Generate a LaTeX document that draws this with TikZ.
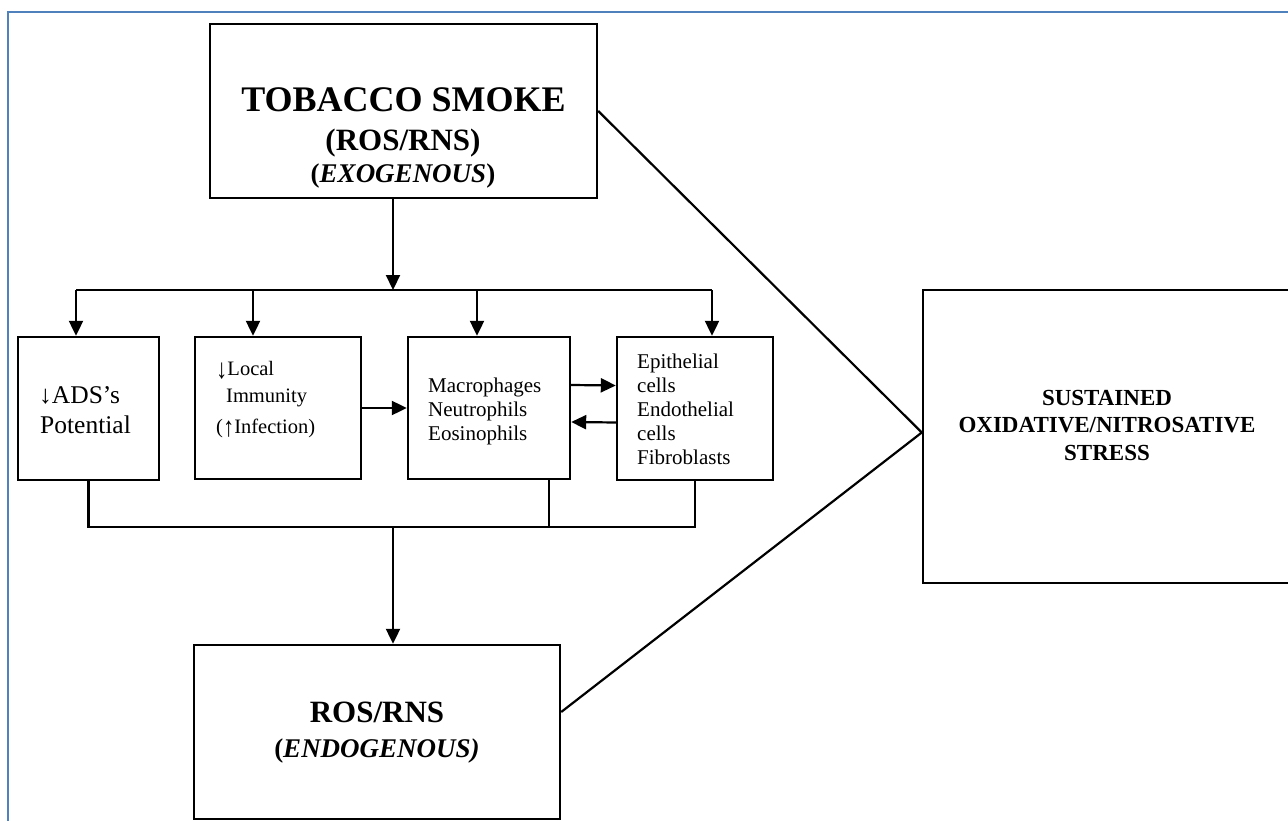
\documentclass[tikz,border=0pt]{standalone}
\usepackage{fontspec}
\usepackage{graphicx}
\setmainfont{Liberation Serif}
\usetikzlibrary{arrows.meta,calc}
\definecolor{frameblue}{RGB}{79,129,189}
\newcommand{\fs}[1]{\fontsize{#1}{#1}\selectfont}
\newcommand{\tallarr}[1]{\raisebox{-0.15em}{\scalebox{1.1}[1.35]{#1}}}
\begin{document}
\begin{tikzpicture}[x=1pt,y=-1pt,
  box/.style={draw=black,line width=2.4pt,rectangle,inner sep=0pt},
  conn/.style={line width=2.2pt,draw=black},
  arr/.style={conn,-{Triangle[length=15pt,width=14pt]}},
  txt/.style={inner sep=0pt,anchor=base west},
  ctxt/.style={inner sep=0pt,anchor=base}]
\useasboundingbox (0,0) rectangle (1288,821);
\fill[white] (0,0) rectangle (1288,821);
\draw[frameblue,line width=2pt] (8,12) rectangle (1300,840);

% boxes
\node[box,minimum width=387pt,minimum height=174pt] (top) at (403.5,111) {};
\node[box,minimum width=141pt,minimum height=143pt] (b1) at (88.5,408.5) {};
\node[box,minimum width=166pt,minimum height=142pt] (b2) at (278,408) {};
\node[box,minimum width=162pt,minimum height=142pt] (b3) at (489,408) {};
\node[box,minimum width=156pt,minimum height=143pt] (b4) at (695,408.5) {};
\node[box,minimum width=366pt,minimum height=174pt] (ros) at (377,732) {};
\node[box,minimum width=368pt,minimum height=293pt] (stress) at (1107,436.5) {};

% texts
\node[ctxt] (t1) at (403.5,112) {\fs{36}\bfseries TOBACCO SMOKE};
\node[ctxt] (t2) at (403,150.5) {\fs{31}\bfseries (ROS/RNS)};
\node[ctxt] (t3) at (403,183) {\fs{27}\bfseries (\textit{EXOGENOUS})};

\node[txt] (a1) at (39,403) {\fs{25.5}↓ADS’s};
\node[txt] (a2) at (40,433) {\fs{25.5}Potential};

\node[txt] (l1) at (216,375) {\fs{20.5}\tallarr{↓}Local};
\node[txt] (l2) at (226,402) {\fs{20.5}Immunity};
\node[txt] (l3) at (216,433) {\fs{20.5}(\tallarr{↑}Infection)};

\node[txt] (m1) at (428,392) {\fs{21}Macrophages};
\node[txt] (m2) at (428,416) {\fs{21}Neutrophils};
\node[txt] (m3) at (428,440) {\fs{21}Eosinophils};

\node[txt] (e1) at (637,368) {\fs{21}Epithelial};
\node[txt] (e2) at (637,392) {\fs{21}cells};
\node[txt] (e3) at (637,416) {\fs{21}Endothelial};
\node[txt] (e4) at (637,440) {\fs{21}cells};
\node[txt] (e5) at (637,464) {\fs{21}Fibroblasts};

\node[ctxt] (s1) at (1107,405) {\fs{23}\bfseries SUSTAINED};
\node[ctxt] (s2) at (1107,432) {\fs{23}\bfseries OXIDATIVE/NITROSATIVE};
\node[ctxt] (s3) at (1107,460) {\fs{23}\bfseries STRESS};

\node[ctxt] (r1) at (377,722) {\fs{31}\bfseries ROS/RNS};
\node[ctxt] (r2) at (377,757) {\fs{27}\bfseries (\textit{ENDOGENOUS)}};

% connectors
\coordinate (split) at (393,290);
\coordinate (c1) at (76,290);
\coordinate (c2) at (253,290);
\coordinate (c3) at (477,290);
\coordinate (c4) at (712,290);
\draw[arr] ([xshift=-10.5pt]top.south) -- (split);
\draw[conn] (c1) -- (c4);
\draw[arr] (c1) -- (c1 |- b1.north);
\draw[arr] (c2) -- (c2 |- b2.north);
\draw[arr] (c3) -- (c3 |- b3.north);
\draw[arr] (c4) -- (c4 |- b4.north);

\draw[arr] (b2.east) -- (b3.west);
\draw[arr] ([yshift=23pt]b3.east) -- ([yshift=23pt]b4.west);
\draw[arr] ([yshift=-14pt]b4.west) -- ([yshift=-14pt]b3.east);

\coordinate (j) at (393,527);
\coordinate (j3) at (549,527);
\draw[conn] (b1.south) |- (b4.south |- j) -- (b4.south);
\draw[conn] (j3 |- b3.south) -- (j3);
\draw[arr] (j) -- (j |- ros.north);

\draw[conn] (top.east) -- ([yshift=4pt]stress.west) -- ([yshift=20pt]ros.east);
\end{tikzpicture}
\end{document}
